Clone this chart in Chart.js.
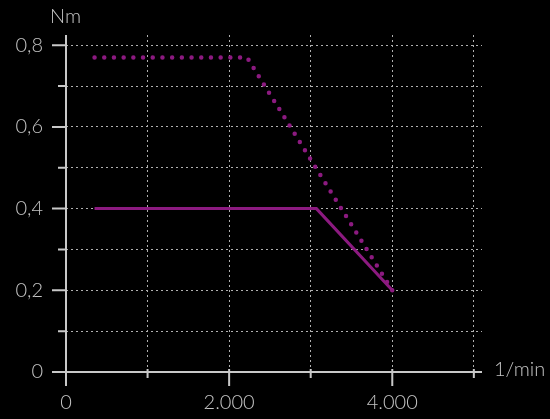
<!DOCTYPE html>
<html>
<head>
<meta charset="utf-8">
<script src="https://cdn.jsdelivr.net/npm/chart.js@4.4.0/dist/chart.umd.min.js"></script>
<style>
html,body{margin:0;padding:0;background:#000;}
#wrap{position:relative;width:550px;height:419px;}
</style>
</head>
<body>
<div id="wrap"><canvas id="c" width="550" height="419"></canvas></div>
<script>
// ---- data ----
const peakSpeed   = [350, 2220, 4000];      // 1/min
const peakTorque  = [0.77, 0.77, 0.2];      // Nm
const ratedSpeed  = [350, 3070, 4000];      // 1/min
const ratedTorque = [0.4, 0.4, 0.2];        // Nm
const xTicks = [0, 1000, 2000, 3000, 4000, 5000];
const xLabels = ['0', '', '2.000', '', '4.000', ''];
const yTicks = [0, 0.1, 0.2, 0.3, 0.4, 0.5, 0.6, 0.7, 0.8];
const yLabels = ['0', '', '0,2', '', '0,4', '', '0,6', '', '0,8'];
const yUnit = 'Nm';
const xUnit = '1/min';

const TXT = '#c4c4c4';
const AXIS = '#c8c8c8';
const GRID = '#b0b0b0';
const PURPLE = '#8c1a80';
const FAMILY = "Lato, 'Open Sans', sans-serif";
const FSIZE = 20;
const FONT = "300 " + FSIZE + "px " + FAMILY;

const toPts = (xs, ys) => xs.map((x, i) => ({x: x, y: ys[i]}));

const axesPlugin = {
  id: 'axesPlugin',
  afterDraw(chart) {
    const ctx = chart.ctx;
    const xs = chart.scales.x, ys = chart.scales.y;
    const ca = chart.chartArea;
    const x0 = xs.getPixelForValue(0), y0 = ys.getPixelForValue(0);
    ctx.save();
    ctx.strokeStyle = AXIS;
    ctx.lineWidth = 2;
    ctx.beginPath();
    ctx.moveTo(x0, ca.top);
    ctx.lineTo(x0, y0 + 14);
    ctx.moveTo(x0 - 14, y0);
    ctx.lineTo(ca.right, y0);
    yTicks.forEach((v, i) => {
      const p = ys.getPixelForValue(v);
      const len = yLabels[i] ? 14 : 8;
      ctx.moveTo(x0 - len, p);
      ctx.lineTo(x0, p);
    });
    xTicks.forEach((v, i) => {
      const p = xs.getPixelForValue(v);
      const len = xLabels[i] ? 14 : 6;
      ctx.moveTo(p, y0 - 3);
      ctx.lineTo(p, y0 + len);
    });
    ctx.stroke();
    ctx.fillStyle = TXT;
    ctx.font = FONT;
    ctx.textBaseline = 'middle';
    ctx.textAlign = 'left';
    ctx.fillText(yUnit, 50, 17);
    ctx.fillText(xUnit, 494, 370);
    ctx.restore();
  }
};

new Chart(document.getElementById('c'), {
  type: 'scatter',
  data: {
    datasets: [
      {
        data: toPts(peakSpeed, peakTorque),
        showLine: true,
        borderColor: PURPLE,
        borderWidth: 4.5,
        borderDash: [0, 9.7],
        borderCapStyle: 'round',
        pointRadius: 0,
        fill: false,
        tension: 0
      },
      {
        data: toPts(ratedSpeed, ratedTorque),
        showLine: true,
        borderColor: PURPLE,
        borderWidth: 3,
        pointRadius: 0,
        fill: false,
        tension: 0
      }
    ]
  },
  options: {
    responsive: false,
    animation: false,
    devicePixelRatio: 1,
    layout: {padding: {top: 35, right: 68, left: 0, bottom: 0}},
    plugins: {legend: {display: false}, tooltip: {enabled: false}},
    scales: {
      x: {
        type: 'linear',
        min: 0,
        max: 5100,
        afterBuildTicks: s => { s.ticks = xTicks.map(v => ({value: v})); },
        afterFit: s => { s.height = 47; },
        border: {display: false, dash: [2, 3]},
        grid: {
          color: c => (c.tick && c.tick.value === 0) ? 'rgba(0,0,0,0)' : GRID,
          lineWidth: 1,
          drawTicks: false
        },
        ticks: {
          color: TXT,
          font: {family: FAMILY, size: FSIZE, weight: '300'},
          padding: 19,
          maxRotation: 0,
          autoSkip: false,
          callback: (v) => xLabels[xTicks.indexOf(v)] ?? ''
        }
      },
      y: {
        type: 'linear',
        min: 0,
        max: 0.825,
        afterBuildTicks: s => { s.ticks = yTicks.map(v => ({value: v})); },
        afterFit: s => { s.width = 66; },
        border: {display: false, dash: [2, 3]},
        grid: {
          color: c => (c.tick && c.tick.value === 0) ? 'rgba(0,0,0,0)' : GRID,
          lineWidth: 1,
          drawTicks: false
        },
        ticks: {
          color: TXT,
          font: {family: FAMILY, size: FSIZE, weight: '300'},
          padding: 23,
          autoSkip: false,
          callback: (v) => {
            const i = yTicks.findIndex(t => Math.abs(t - v) < 1e-9);
            return i >= 0 ? yLabels[i] : '';
          }
        }
      }
    }
  },
  plugins: [axesPlugin]
});
</script>
</body>
</html>
